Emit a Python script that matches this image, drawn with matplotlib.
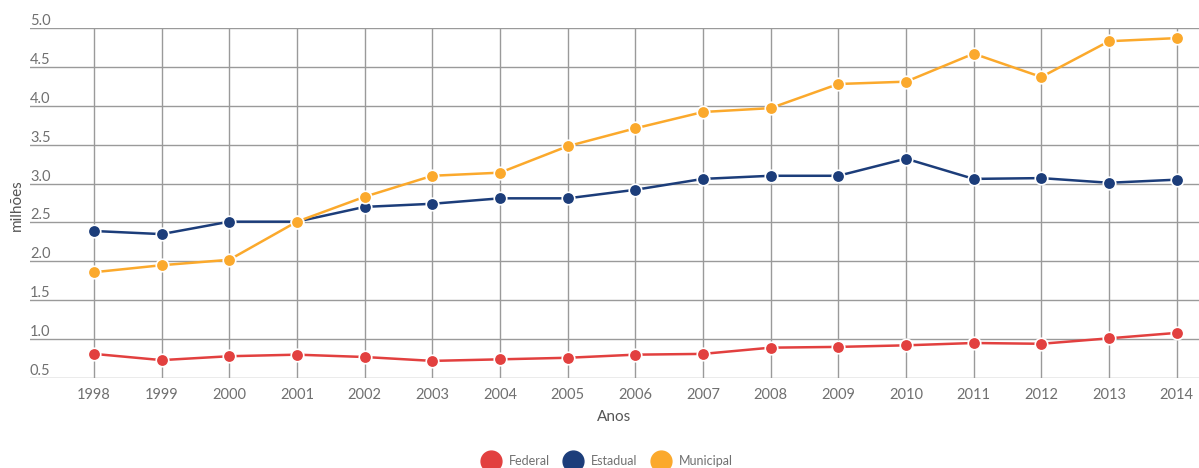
import matplotlib.pyplot as plt
import matplotlib.transforms as mtransforms
from matplotlib.lines import Line2D

plt.rcParams['font.family'] = ['Lato', 'DejaVu Sans']

anos = list(range(1998, 2015))
federal = [0.81, 0.73, 0.78, 0.80, 0.77, 0.72, 0.74, 0.76, 0.80, 0.81,
           0.89, 0.90, 0.92, 0.95, 0.94, 1.01, 1.08]
estadual = [2.39, 2.35, 2.51, 2.51, 2.70, 2.74, 2.81, 2.81, 2.92, 3.06,
            3.10, 3.10, 3.32, 3.06, 3.07, 3.01, 3.05]
municipal = [1.86, 1.95, 2.02, 2.51, 2.83, 3.10, 3.14, 3.48, 3.71, 3.92,
             3.97, 4.28, 4.31, 4.67, 4.37, 4.83, 4.87]
yticks = [0.5, 1.0, 1.5, 2.0, 2.5, 3.0, 3.5, 4.0, 4.5, 5.0]

series = [("Federal", federal, "#e2403f"),
          ("Estadual", estadual, "#1c3d7a"),
          ("Municipal", municipal, "#fba92c")]

fig = plt.figure(figsize=(11.99, 4.68), dpi=100)
ax = fig.add_axes([30 / 1199, 1 - 378 / 468, 1 - 30 / 1199, 350 / 468])

ax.set_xlim(1997.055, 2014.33)
ax.set_ylim(0.5, 5.0)

for name, vals, col in series:
    ax.plot(anos, vals, color=col, lw=1.8, marker='o', ms=9,
            markeredgecolor='white', markeredgewidth=1.2, zorder=3)

# grid
for y in yticks:
    ax.axhline(y, color='#9a9a9a', lw=1, zorder=1)
for x in anos:
    ax.axvline(x, color='#9a9a9a', lw=1, zorder=1)

for s in ax.spines.values():
    s.set_visible(False)
ax.set_xticks(anos)
ax.set_xticklabels([str(a) for a in anos], color='#707070', fontsize=10.5)
ax.tick_params(axis='x', length=0, pad=7)
ax.set_yticks([])

trans = mtransforms.blended_transform_factory(ax.transAxes, ax.transData)
for y in yticks:
    ax.text(0.0, y, "%.1f" % y, transform=trans, ha='left', va='bottom',
            color='#707070', fontsize=10.5)

ax.set_xlabel("Anos", color='#555555', fontsize=11, labelpad=6)
fig.text(17 / 1199, 1 - 205 / 468, "milhões", rotation=90, ha='center',
         va='center', color='#555555', fontsize=11)

handles = [Line2D([], [], ls='none', marker='o', ms=15, color=c) for _, _, c in series]
fig.legend(handles, [n for n, _, _ in series], loc='center',
           bbox_to_anchor=(0.506, 1 - 461 / 468), ncol=3, frameon=False,
           fontsize=9, labelcolor='#707070', handletextpad=0.6,
           columnspacing=1.1, handlelength=1.6)

fig.savefig("out.png", dpi=100)
